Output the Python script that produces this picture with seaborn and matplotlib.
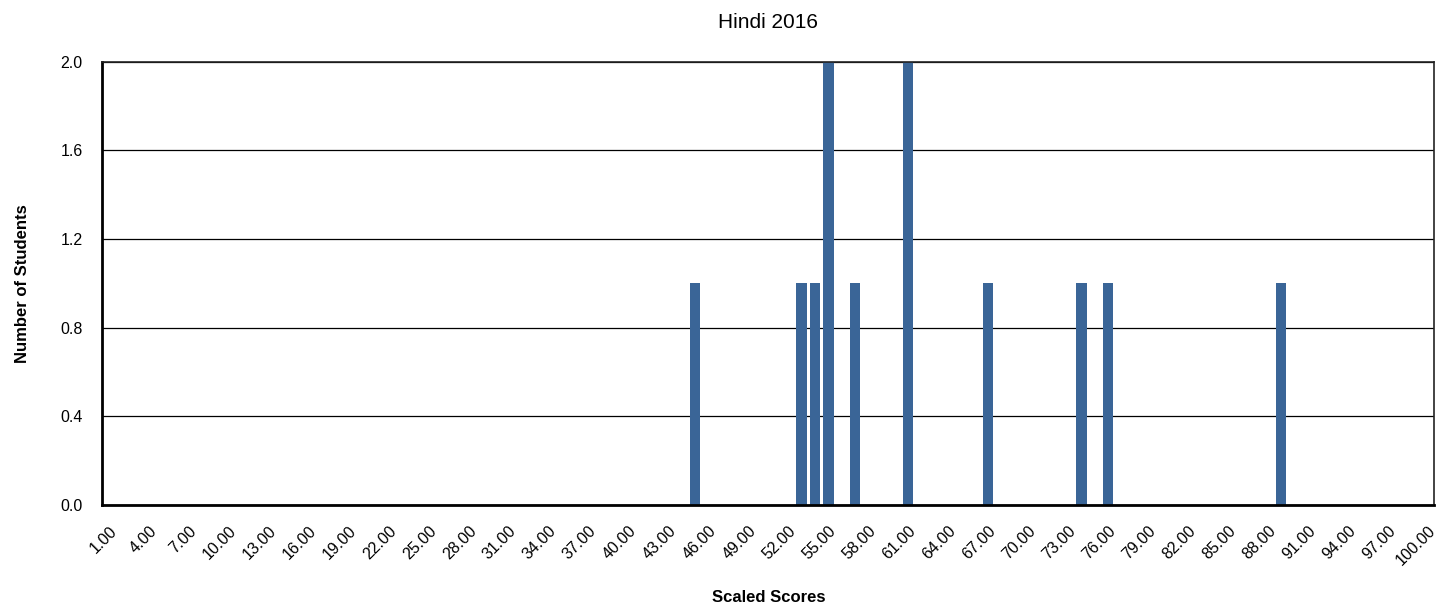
import matplotlib
matplotlib.use("Agg")
import matplotlib.pyplot as plt
import seaborn as sns
import pandas as pd

scores = [f"{v:.2f}" for v in range(1, 101)]
counts = [
    0, 0, 0, 0, 0, 0, 0, 0, 0, 0,   # 1-10
    0, 0, 0, 0, 0, 0, 0, 0, 0, 0,   # 11-20
    0, 0, 0, 0, 0, 0, 0, 0, 0, 0,   # 21-30
    0, 0, 0, 0, 0, 0, 0, 0, 0, 0,   # 31-40
    0, 0, 0, 0, 1, 0, 0, 0, 0, 0,   # 41-50
    0, 0, 1, 1, 2, 0, 1, 0, 0, 0,   # 51-60
    2, 0, 0, 0, 0, 0, 1, 0, 0, 0,   # 61-70
    0, 0, 0, 1, 0, 1, 0, 0, 0, 0,   # 71-80
    0, 0, 0, 0, 0, 0, 0, 0, 1, 0,   # 81-90
    0, 0, 0, 0, 0, 0, 0, 0, 0, 0,   # 91-100
]
y_ticks = [0.0, 0.4, 0.8, 1.2, 1.6, 2.0]
title = "Hindi 2016"
x_label = "Scaled Scores"
y_label = "Number of Students"

sns.set_style("white")
plt.rcParams["font.family"] = ["Liberation Sans", "DejaVu Sans"]
plt.rcParams["text.color"] = "black"
plt.rcParams["axes.labelcolor"] = "black"
plt.rcParams["xtick.color"] = "black"
plt.rcParams["ytick.color"] = "black"

df = pd.DataFrame({"score": scores, "count": counts})

fig = plt.figure(figsize=(14.55, 6.11), dpi=100)
ax = fig.add_axes([102.3 / 1455, 1 - 505 / 611, (1434.3 - 102.3) / 1455, (505 - 61.7) / 611])

sns.barplot(data=df, x="score", y="count", order=scores, color="#3A6597",
            saturation=1, width=0.8, ax=ax, errorbar=None,
            edgecolor="none", linewidth=0)

ax.set_xlim(-0.5, len(scores) - 0.5)
ax.set_ylim(0, 2.0)
ax.set_yticks(y_ticks)
ax.set_yticklabels([f"{t:.1f}" for t in y_ticks], fontsize=11.5, color="black")
ax.yaxis.grid(True, color="black", linewidth=0.9)
ax.set_axisbelow(True)

tick_pos = list(range(0, len(scores), 3))
ax.set_xticks(tick_pos)
ax.set_xticklabels([scores[i] for i in tick_pos], rotation=45, ha="right",
                   va="top", rotation_mode="anchor", fontsize=11.5,
                   color="black")

ax.tick_params(axis="both", length=0)
ax.tick_params(axis="y", pad=14)
ax.tick_params(axis="x", pad=13)

for side in ["left", "bottom"]:
    ax.spines[side].set_linewidth(2)
    ax.spines[side].set_color("black")
for side in ["top", "right"]:
    ax.spines[side].set_linewidth(1.2)
    ax.spines[side].set_color("#222222")
    ax.spines[side].set_visible(True)

ax.set_title(title, fontsize=15, pad=24, color="black")
ax.set_xlabel(x_label, fontsize=12, fontweight="bold", labelpad=16)
ax.set_ylabel(y_label, fontsize=12, fontweight="bold", labelpad=22)

fig.savefig("out.png", dpi=100)
